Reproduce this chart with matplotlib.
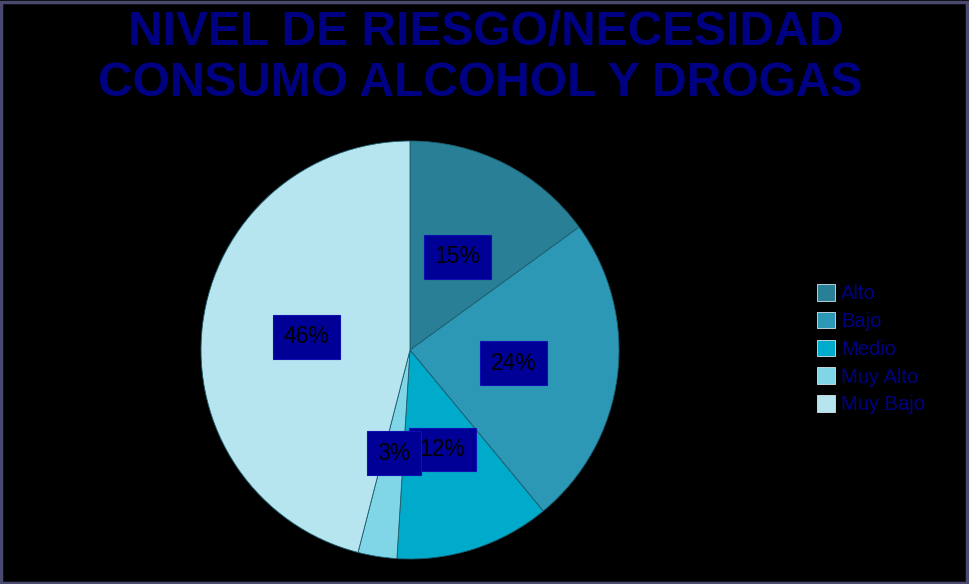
import matplotlib.pyplot as plt
from matplotlib.patches import Rectangle, Patch

plt.rcParams['font.family'] = ['Liberation Sans', 'DejaVu Sans']

# risk/need levels and their share of cases
categories = ["Alto", "Bajo", "Medio", "Muy Alto", "Muy Bajo"]
shares = [15, 24, 12, 3, 46]
colors = ["#287f96", "#2c98b5", "#00aacb", "#80d5e6", "#b6e5f0"]

title_color = "#000082"
box_color = "#000096"

fig = plt.figure(figsize=(9.69, 5.84), dpi=100, facecolor="black")

# pie centred at about (410, 350) px with a 209 px radius
ax = fig.add_axes([201 / 969, 25 / 584, 418 / 969, 418 / 584])
ax.set_facecolor("black")
wedges, texts, autotexts = ax.pie(
    shares, colors=colors, startangle=90, counterclock=False,
    autopct=lambda p: f"{p:.0f}%", pctdistance=0.5, radius=1,
    wedgeprops=dict(edgecolor="#1d5e6e", linewidth=0.6),
)
for t in autotexts:
    t.set_color("black")
    t.set_fontsize(16.5)
    t.set_bbox(dict(boxstyle="square,pad=0.45", facecolor=box_color,
                    edgecolor="#1010b0", linewidth=0.8))
ax.set_xlim(-1, 1)
ax.set_ylim(-1, 1)
ax.set_aspect("equal")
ax.axis("off")

fig.text(486 / 969, 1 - 32 / 584, "NIVEL DE RIESGO/NECESIDAD", ha="center",
         va="center", fontsize=34.5, fontweight="bold", color=title_color)
fig.text(480 / 969, 1 - 83 / 584, "CONSUMO ALCOHOL Y DROGAS", ha="center",
         va="center", fontsize=34.5, fontweight="bold", color=title_color)

handles = [Patch(facecolor=c, edgecolor="#d0e8ee", linewidth=0.6) for c in colors]
leg = fig.legend(handles, categories, loc="upper left",
                 bbox_to_anchor=(817 / 969, 1 - 284 / 584), frameon=False,
                 fontsize=14.5, handlelength=0.9, handleheight=0.9,
                 handletextpad=0.3, labelspacing=0.42, borderpad=0,
                 borderaxespad=0)
for t in leg.get_texts():
    t.set_color(title_color)

# outer frame
fig.add_artist(Rectangle((0.001, 0.002), 0.997, 0.995, transform=fig.transFigure,
                         fill=False, edgecolor="#4a4a6e", linewidth=2.5))

fig.savefig("out.png", dpi=100, facecolor="black")
